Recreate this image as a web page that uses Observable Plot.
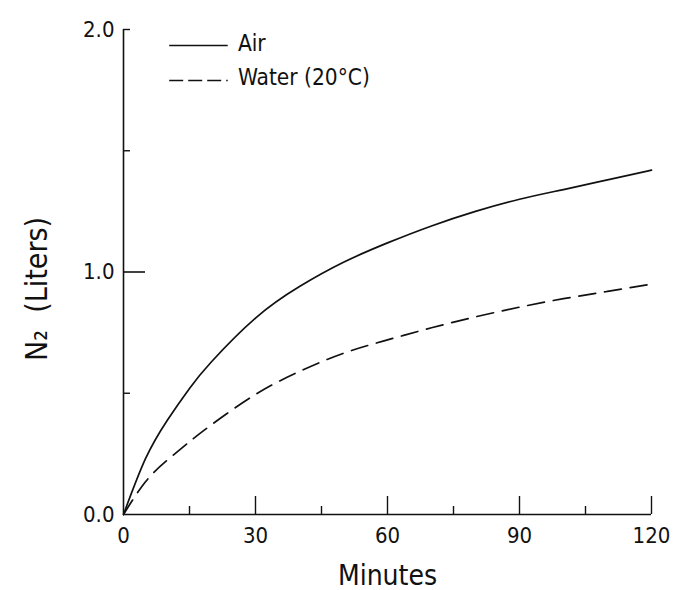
<!DOCTYPE html>
<html>
<head>
<meta charset="utf-8">
<script src="https://cdn.jsdelivr.net/npm/d3@7"></script>
<script src="https://cdn.jsdelivr.net/npm/@observablehq/plot@0.6"></script>
<style>
  html, body { margin: 0; padding: 0; background: #fff; }
  #chart svg { display: block; }
</style>
</head>
<body>
<div id="chart"></div>
<script>
// Time in minutes
const minutes = [0, 5, 10, 15, 20, 30, 40, 50, 60, 70, 80, 90, 100, 110, 120];
// N2 (liters) taken up, air breathing
const air =     [0, 0.23, 0.39, 0.52, 0.63, 0.81, 0.94, 1.04, 1.12, 1.19, 1.25, 1.30, 1.34, 1.38, 1.42];
// N2 (liters), water at 20°C
const water =   [0, 0.135, 0.225, 0.30, 0.37, 0.495, 0.59, 0.665, 0.72, 0.77, 0.815, 0.855, 0.89, 0.92, 0.95];

const xLabelTicks = [0, 30, 60, 90, 120];
const xMajorTicks = [30, 60, 90, 120];
const xMinorTicks = [15, 45, 75, 105];
const yLabelTicks = [0, 1, 2];
const yMinorTicks = [0.5, 1.5, 2];
const yMajorTicks = [1];

const legendNames = ["Air", "Water (20°C)"];
const legendX = [10.5, 23.8, 26.0]; // line start, line end, text start (minutes)
const legendLineY = [1.934, 1.79];
const legendTextY = [1.94, 1.80];

const airData = minutes.map((t, i) => ({t, v: air[i]}));
const waterData = minutes.map((t, i) => ({t, v: water[i]}));

const font = "'DejaVu Sans Condensed', 'DejaVu Sans', sans-serif";

const chart = Plot.plot({
  width: 673,
  height: 590,
  marginLeft: 123,
  marginRight: 22,
  marginTop: 29,
  marginBottom: 76,
  style: {fontFamily: font, fontSize: "22px", color: "#111", background: "#fff"},
  x: {domain: [0, 120]},
  y: {domain: [0, 2]},
  marks: [
    // axis lines
    Plot.ruleY([0], {stroke: "#111", strokeWidth: 1.6}),
    Plot.ruleX([0], {stroke: "#111", strokeWidth: 1.6}),
    // x ticks (inward)
    Plot.axisX({ticks: xMajorTicks, tickSize: -18, fill: "none", stroke: "#111", strokeWidth: 1.4, label: null}),
    Plot.axisX({ticks: xMinorTicks, tickSize: -8, fill: "none", stroke: "#111", strokeWidth: 1.4, label: null}),
    Plot.axisX({ticks: xLabelTicks, tickSize: 0, tickPadding: 13, tickFormat: d => String(d), fill: "#111", fontSize: 22, label: null}),
    // y ticks (inward)
    Plot.axisY({ticks: yMajorTicks, tickSize: -22, fill: "none", stroke: "#111", strokeWidth: 1.6, label: null}),
    Plot.axisY({ticks: yMinorTicks, tickSize: -7, fill: "none", stroke: "#111", strokeWidth: 1.4, label: null}),
    Plot.axisY({ticks: yLabelTicks, tickSize: 0, tickPadding: 9, tickFormat: d3.format(".1f"), fill: "#111", fontSize: 22, label: null}),
    // axis titles
    Plot.text(["Minutes"], {frameAnchor: "bottom", textAnchor: "middle", dy: 70, fontSize: 28, fill: "#111"}),
    Plot.text(["N₂  (Liters)"], {frameAnchor: "left", y: [0.93], textAnchor: "middle", dx: -86, rotate: -90, fontSize: 30, fill: "#111"}),
    // curves
    Plot.line(airData, {x: "t", y: "v", curve: "natural", stroke: "#111", strokeWidth: 1.7}),
    Plot.line(waterData, {x: "t", y: "v", curve: "natural", stroke: "#111", strokeWidth: 1.7, strokeDasharray: "17,9"}),
    // legend
    Plot.ruleY([legendLineY[0]], {x1: legendX[0], x2: legendX[1], stroke: "#111", strokeWidth: 1.6}),
    Plot.ruleY([legendLineY[1]], {x1: legendX[0], x2: legendX[1], stroke: "#111", strokeWidth: 1.6, strokeDasharray: "14,5"}),
    Plot.text(legendNames, {x: legendX[2], y: legendTextY, text: d => d, textAnchor: "start", fontSize: 22.5, fill: "#111"})
  ]
});

document.getElementById("chart").appendChild(chart);
</script>
</body>
</html>
